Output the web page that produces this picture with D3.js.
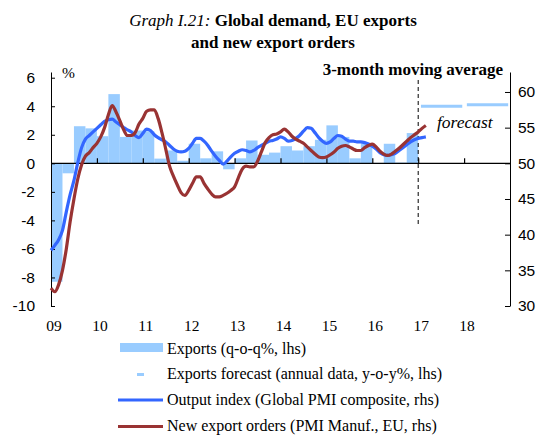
<!DOCTYPE html>
<html>
<head>
<meta charset="utf-8">
<script src="https://cdn.jsdelivr.net/npm/d3@7"></script>
<style>
  body { margin: 0; background: #fff; }
  svg { font-family: 'Liberation Serif', 'Times New Roman', serif; }
</style>
</head>
<body>
<div id="chart"></div>
<script>
// year tick labels
var yearLabels = ['09', '10', '11', '12', '13', '14', '15', '16', '17', '18'];
var firstYear = 2009;

// Exports, q-o-q %, quarterly 2009Q1 - 2016Q4 (lhs)
var exportsQoq = [
  -8.3, -0.7, 2.6, 2.45,
  1.9, 4.85, 1.85, 2.3,
  2.25, 0.33, 0.9, 0.18,
  1.37, 0.35, 0.84, -0.42,
  0.35, 1.6, 0.6, 0.75,
  1.2, 0.9, 1.2, 1.65,
  2.66, 1.85, 0.35, 1.4,
  0.03, 1.37, 0.05, 2.12
];

// Exports forecast, annual y-o-y % (lhs)
var forecastYears = [2017, 2018];
var exportsForecast = [4.0, 4.1];

// Output index (Global PMI composite), monthly from Jan 2009 (rhs)
var outputIndex = [
  37.8, 38.5, 39.3, 40.6, 43.2, 45.6, 47.6, 50.1, 52.2, 53.4, 53.9, 54.4,
  54.9, 55.4, 55.9, 56.1, 56.2, 55.8, 55.4, 55.0, 54.7, 54.4, 53.9, 53.6,
  54.2, 54.8, 54.6, 54.0, 53.6, 53.3, 53.0, 52.5, 52.0, 51.7, 51.6, 51.7,
  52.1, 52.8, 53.5, 53.5, 53.1, 52.5, 51.7, 51.0, 50.4, 49.9, 50.3, 50.9,
  51.4, 51.7, 51.9, 51.8, 51.6, 51.8, 52.2, 52.5, 52.8, 53.1, 53.2, 53.4,
  53.7, 53.5, 53.1, 53.2, 53.5, 53.9, 54.5, 55.0, 54.9, 54.3, 53.6, 53.1,
  52.8, 53.0, 53.5, 53.9, 53.8, 53.4, 53.1, 53.1, 53.0, 53.0, 52.9, 52.7,
  52.4, 52.0, 51.5, 51.2, 51.1, 51.2, 51.4, 51.8, 52.2, 52.6, 53.0, 53.3,
  53.5, 53.6, 53.7
];

// New export orders (PMI Manuf., EU), monthly from Jan 2009 (rhs)
var newExportOrders = [
  32.5, 32.0, 33.0, 35.0, 38.0, 41.8, 45.0, 47.8, 49.8, 51.0, 51.5, 52.2,
  52.8, 53.7, 55.0, 56.8, 58.1, 57.2, 56.0, 54.7, 53.9, 53.9, 54.3, 55.5,
  56.3, 57.3, 57.5, 57.5, 56.3, 54.3, 52.0, 49.6, 48.2, 47.0, 45.9, 45.5,
  46.2, 47.2, 48.1, 48.1, 47.2, 46.4, 45.7, 45.3, 45.3, 45.5, 45.8, 46.2,
  46.7, 48.0, 49.2, 49.6, 49.5, 49.5, 50.3, 51.6, 52.9, 53.6, 54.0, 54.1,
  54.4, 54.8, 54.4, 53.8, 53.4, 53.1, 52.8, 52.3, 51.8, 51.3, 50.9, 50.8,
  50.9, 51.2, 51.6, 52.1, 52.4, 52.5, 52.3, 52.0, 51.8, 51.8, 52.2, 52.5,
  52.7, 52.3, 51.7, 51.3, 51.1, 51.3, 51.7, 52.1, 52.6, 53.1, 53.6, 54.0,
  54.4, 54.9, 55.3
];

var leftTicks = [-10, -8, -6, -4, -2, 0, 2, 4, 6];
var rightTicks = [30, 35, 40, 45, 50, 55, 60];

var colors = {
  bar: '#99ccff',
  output: '#3366ff',
  orders: '#993333'
};

var width = 547, height = 435;
var plot = { left: 51, right: 510, top: 72, bottom: 306 };
var axisFont = '15.5px';

var svg = d3.select('#chart')
  .append('svg')
  .attr('width', width)
  .attr('height', height);

var x = d3.scaleLinear().domain([2009, 2019]).range([plot.left, plot.right]);
var yL = d3.scaleLinear().domain([-10, 6.4]).range([plot.bottom, plot.top]);
var yR = d3.scaleLinear().domain([30, 62.8]).range([plot.bottom, plot.top]);

// title
var title = svg.append('text')
  .attr('x', 273)
  .attr('y', 26)
  .attr('text-anchor', 'middle')
  .attr('font-size', '17px');
title.append('tspan').attr('font-style', 'italic').text('Graph I.21: ');
title.append('tspan').attr('font-weight', 'bold').text('Global demand, EU exports');
svg.append('text')
  .attr('x', 273)
  .attr('y', 47.5)
  .attr('text-anchor', 'middle')
  .attr('font-size', '17px')
  .attr('font-weight', 'bold')
  .text('and new export orders');

// bars
svg.append('g')
  .selectAll('rect')
  .data(exportsQoq)
  .enter()
  .append('rect')
  .attr('x', function(d, i) { return x(firstYear + i / 4); })
  .attr('width', function(d, i) { return x(firstYear + (i + 1) / 4) - x(firstYear + i / 4); })
  .attr('y', function(d) { return yL(Math.max(0, d)); })
  .attr('height', function(d) { return Math.abs(yL(d) - yL(0)); })
  .attr('fill', colors.bar);

// forecast dashes
svg.append('g')
  .selectAll('line')
  .data(exportsForecast)
  .enter()
  .append('line')
  .attr('x1', function(d, i) { return x(forecastYears[i] + 0.06); })
  .attr('x2', function(d, i) { return x(forecastYears[i] + 0.96); })
  .attr('y1', function(d) { return yL(d); })
  .attr('y2', function(d) { return yL(d); })
  .attr('stroke', colors.bar)
  .attr('stroke-width', 3);

// zero line with year ticks pointing up
svg.append('line')
  .attr('x1', plot.left)
  .attr('x2', plot.right)
  .attr('y1', yL(0))
  .attr('y2', yL(0))
  .attr('stroke', '#000')
  .attr('stroke-width', 1.2);

var xAxis = d3.axisTop(x)
  .tickValues(d3.range(2010, 2019))
  .tickSize(5)
  .tickFormat('');
svg.append('g')
  .attr('transform', 'translate(0,' + yL(0) + ')')
  .call(xAxis)
  .call(function(g) { g.select('.domain').remove(); })
  .selectAll('line')
  .attr('stroke', '#000')
  .attr('stroke-width', 1.2);

svg.append('g')
  .selectAll('text')
  .data(yearLabels)
  .enter()
  .append('text')
  .attr('x', function(d, i) { return x(firstYear + i) + 3; })
  .attr('y', 331)
  .attr('text-anchor', 'middle')
  .attr('font-size', axisFont)
  .text(function(d) { return d; });

// left axis
var leftAxis = d3.axisLeft(yL)
  .tickValues(leftTicks)
  .tickSizeInner(-4)
  .tickSizeOuter(0)
  .tickPadding(16)
  .tickFormat(function(d) { return String(d); });
var gl = svg.append('g')
  .attr('transform', 'translate(' + plot.left + ',0)')
  .call(leftAxis);
gl.selectAll('text').attr('font-size', axisFont).attr('font-family', null).attr('fill', '#000');
gl.selectAll('line, path').attr('stroke', '#000');

// right axis
var rightAxis = d3.axisRight(yR)
  .tickValues(rightTicks)
  .tickSizeInner(-5)
  .tickSizeOuter(0)
  .tickPadding(8);
var gr = svg.append('g')
  .attr('transform', 'translate(' + plot.right + ',0)')
  .call(rightAxis);
gr.selectAll('text').attr('font-size', axisFont).attr('font-family', null).attr('fill', '#000');
gr.selectAll('line, path').attr('stroke', '#000');

svg.append('text')
  .attr('x', 62)
  .attr('y', 78)
  .attr('font-size', axisFont)
  .text('%');

// forecast divider
svg.append('line')
  .attr('x1', x(2017))
  .attr('x2', x(2017))
  .attr('y1', 80)
  .attr('y2', 227)
  .attr('stroke', '#000')
  .attr('stroke-width', 1)
  .attr('stroke-dasharray', '4,3');

// lines
var monthly = function(series) {
  return d3.line()
    .x(function(d, i) { return x(firstYear + i / 12); })
    .y(function(d) { return yR(d); })
    .curve(d3.curveMonotoneX)(series);
};

svg.append('path')
  .attr('d', monthly(outputIndex))
  .attr('fill', 'none')
  .attr('stroke', colors.output)
  .attr('stroke-width', 3.2)
  .attr('stroke-linejoin', 'round');

svg.append('path')
  .attr('d', monthly(newExportOrders))
  .attr('fill', 'none')
  .attr('stroke', colors.orders)
  .attr('stroke-width', 3.2)
  .attr('stroke-linejoin', 'round');

// annotations
svg.append('text')
  .attr('x', 503)
  .attr('y', 75)
  .attr('text-anchor', 'end')
  .attr('font-size', '17px')
  .attr('font-weight', 'bold')
  .text('3-month moving average');

svg.append('text')
  .attr('x', 437)
  .attr('y', 128)
  .attr('font-size', '17.5px')
  .attr('font-style', 'italic')
  .text('forecast');

// legend
var legend = svg.append('g');
var rowY = [353.5, 379.3, 405, 430.7];
var labels = [
  'Exports (q-o-q%, lhs)',
  'Exports forecast (annual data, y-o-y%, lhs)',
  'Output index (Global PMI composite, rhs)',
  'New export orders (PMI Manuf., EU, rhs)'
];

legend.append('rect')
  .attr('x', 120).attr('y', 343)
  .attr('width', 43).attr('height', 9)
  .attr('fill', colors.bar);
legend.append('line')
  .attr('x1', 137).attr('x2', 144)
  .attr('y1', 374.5).attr('y2', 374.5)
  .attr('stroke', colors.bar).attr('stroke-width', 3);
legend.append('line')
  .attr('x1', 118).attr('x2', 163)
  .attr('y1', 400).attr('y2', 400)
  .attr('stroke', colors.output).attr('stroke-width', 3);
legend.append('line')
  .attr('x1', 118).attr('x2', 163)
  .attr('y1', 426.5).attr('y2', 426.5)
  .attr('stroke', colors.orders).attr('stroke-width', 3);

legend.selectAll('text')
  .data(labels)
  .enter()
  .append('text')
  .attr('x', 167)
  .attr('y', function(d, i) { return rowY[i]; })
  .attr('font-size', '16px')
  .text(function(d) { return d; });
</script>
</body>
</html>
